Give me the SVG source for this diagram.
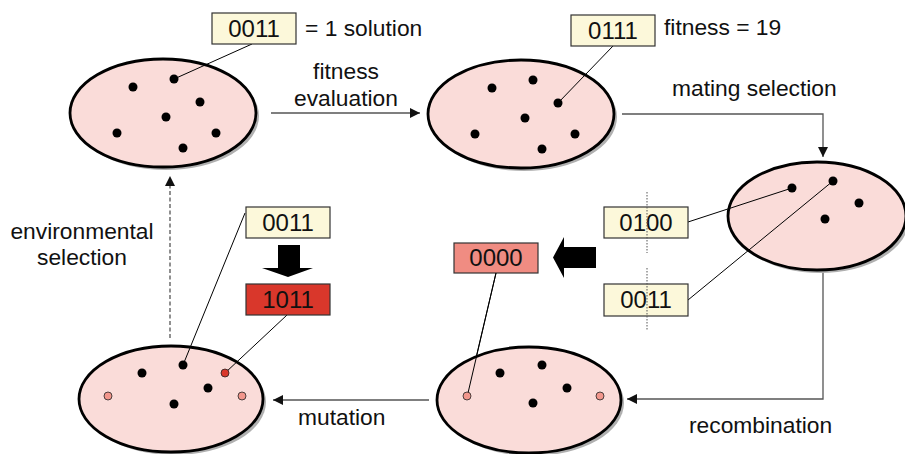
<svg xmlns="http://www.w3.org/2000/svg" width="905" height="454" viewBox="0 0 905 454">
<style>
.pop{fill:#FADCD9;stroke:#000;stroke-width:2.8}
.sh{fill:#b0b0b0}
.dot{fill:#000}
.pdot{fill:#F2968C;stroke:#222;stroke-width:0.8}
.rdot{fill:#D9372B;stroke:#222;stroke-width:0.8}
.box{fill:#FCF8DA;stroke:#333;stroke-width:1.2}
.t{font-family:"Liberation Sans",Arial,sans-serif;font-size:22.8px;fill:#111}
.bt{font-family:"Liberation Sans",Arial,sans-serif;font-size:24px;fill:#111;text-anchor:middle}
.lead{stroke:#000;stroke-width:1;fill:none}
.conn{stroke:#555;stroke-width:1.3;fill:none}
.dotted{stroke:#555;stroke-width:1;stroke-dasharray:1.5,1.5;fill:none}
</style>
<defs>
<marker id="ah" viewBox="0 0 10 10" refX="10" refY="5" markerWidth="10" markerHeight="10" markerUnits="userSpaceOnUse" orient="auto">
<path d="M0,0 L10,5 L0,10 z" fill="#111"/>
</marker>
</defs>

<g id="connectors">
<line class="conn" x1="271" y1="113" x2="420" y2="113" marker-end="url(#ah)"/>
<path class="conn" d="M622,114 H823 V157" marker-end="url(#ah)"/>
<path class="conn" d="M823,270 V399 H627" marker-end="url(#ah)"/>
<line class="conn" x1="429" y1="400" x2="273" y2="400" marker-end="url(#ah)"/>
<line class="conn" x1="170" y1="338" x2="170" y2="176" stroke-dasharray="4,2.5" marker-end="url(#ah)"/>
</g>

<g id="pop1">
<ellipse class="sh" cx="166" cy="116" rx="93" ry="54"/>
<ellipse class="pop" cx="163" cy="113" rx="93" ry="54"/>
<circle class="dot" cx="133" cy="87" r="4.5"/>
<circle class="dot" cx="174" cy="79" r="4.5"/>
<circle class="dot" cx="200" cy="102" r="4.5"/>
<circle class="dot" cx="166" cy="117" r="4.5"/>
<circle class="dot" cx="117" cy="133" r="4.5"/>
<circle class="dot" cx="216" cy="133" r="4.5"/>
<circle class="dot" cx="183" cy="148" r="4.5"/>
<line class="lead" x1="252" y1="44" x2="174" y2="79"/>
<rect class="box" x="212" y="13" width="84" height="31"/>
<text class="bt" x="254" y="37">0011</text>
<text class="t" x="305" y="36">= 1 solution</text>
</g>

<g id="label-fitness">
<text class="t" x="346" y="79" text-anchor="middle">fitness</text>
<text class="t" x="346" y="106" text-anchor="middle">evaluation</text>
</g>

<g id="pop2">
<ellipse class="sh" cx="524" cy="117" rx="93" ry="54"/>
<ellipse class="pop" cx="521" cy="114" rx="93" ry="54"/>
<circle class="dot" cx="492" cy="88" r="4.5"/>
<circle class="dot" cx="533" cy="80" r="4.5"/>
<circle class="dot" cx="558" cy="103" r="4.5"/>
<circle class="dot" cx="525" cy="118" r="4.5"/>
<circle class="dot" cx="475" cy="134" r="4.5"/>
<circle class="dot" cx="575" cy="134" r="4.5"/>
<circle class="dot" cx="542" cy="149" r="4.5"/>
<line class="lead" x1="613" y1="46" x2="558" y2="103"/>
<rect class="box" x="571" y="15" width="84" height="31"/>
<text class="bt" x="613" y="39">0111</text>
<text class="t" x="664" y="35">fitness = 19</text>
</g>

<g id="label-mating">
<text class="t" x="672" y="96">mating selection</text>
</g>

<g id="pop3">
<ellipse class="sh" cx="820" cy="219" rx="89" ry="54"/>
<ellipse class="pop" cx="817" cy="216" rx="89" ry="54"/>
<circle class="dot" cx="792" cy="188" r="4.5"/>
<circle class="dot" cx="833" cy="181" r="4.5"/>
<circle class="dot" cx="859" cy="203" r="4.5"/>
<circle class="dot" cx="825" cy="219" r="4.5"/>
<line class="lead" x1="688" y1="222" x2="792" y2="188"/>
<line class="lead" x1="688" y1="300" x2="833" y2="181"/>
</g>

<g id="parent1">
<rect class="box" x="604" y="207" width="84" height="31"/>
<text class="bt" x="646" y="231">0100</text>
<line class="dotted" x1="647" y1="192" x2="647" y2="253"/>
</g>

<g id="parent2">
<rect class="box" x="604" y="284" width="84" height="32"/>
<text class="bt" x="646" y="308">0011</text>
<line class="dotted" x1="647" y1="268" x2="647" y2="330"/>
</g>

<g id="label-recombination">
<text class="t" x="689" y="433">recombination</text>
</g>

<g id="arrow-left">
<path d="M596,247 H564 V237 L553,257.5 L564,278 V268 H596 z" fill="#000"/>
</g>

<g id="child">
<line class="lead" x1="496" y1="273" x2="467" y2="396"/>
<rect x="454" y="243" width="84" height="30" fill="#F08C82" stroke="#333" stroke-width="1.2"/>
<text class="bt" x="496" y="266">0000</text>
</g>

<g id="pop4">
<ellipse class="sh" cx="532" cy="403" rx="92" ry="53"/>
<ellipse class="pop" cx="529" cy="400" rx="92" ry="53"/>
<circle class="dot" cx="500" cy="373" r="4.5"/>
<circle class="dot" cx="542" cy="365" r="4.5"/>
<circle class="dot" cx="567" cy="388" r="4.5"/>
<circle class="dot" cx="533" cy="403" r="4.5"/>
<line class="lead" x1="496" y1="273" x2="468" y2="393"/>
<circle class="pdot" cx="467" cy="396" r="4"/>
<circle class="pdot" cx="600" cy="396" r="4"/>
</g>

<g id="label-mutation">
<text class="t" x="298" y="425">mutation</text>
</g>

<g id="pop5">
<ellipse class="sh" cx="174" cy="402" rx="92" ry="53"/>
<ellipse class="pop" cx="171" cy="399" rx="92" ry="53"/>
<circle class="dot" cx="142" cy="373" r="4.5"/>
<circle class="dot" cx="183" cy="365" r="4.5"/>
<circle class="dot" cx="208" cy="388" r="4.5"/>
<circle class="dot" cx="174" cy="404" r="4.5"/>
<line class="lead" x1="245" y1="213" x2="183" y2="365"/>
<line class="lead" x1="287" y1="315" x2="225" y2="373"/>
<circle class="rdot" cx="225" cy="373" r="4"/>
<circle class="pdot" cx="108" cy="396" r="4"/>
<circle class="pdot" cx="242" cy="396" r="4"/>
</g>

<g id="mutant">
<rect class="box" x="246" y="207" width="84" height="31"/>
<text class="bt" x="288" y="231">0011</text>
<path d="M278,245 H300 V268 H313 L288,277 L262,268 H278 z" fill="#000"/>
<rect x="246" y="284" width="84" height="31" fill="#D9372B" stroke="#333" stroke-width="1.2"/>
<text class="bt" x="288" y="308">1011</text>
</g>

<g id="label-env">
<text class="t" x="82" y="239" text-anchor="middle">environmental</text>
<text class="t" x="82" y="265" text-anchor="middle">selection</text>
</g>
</svg>
